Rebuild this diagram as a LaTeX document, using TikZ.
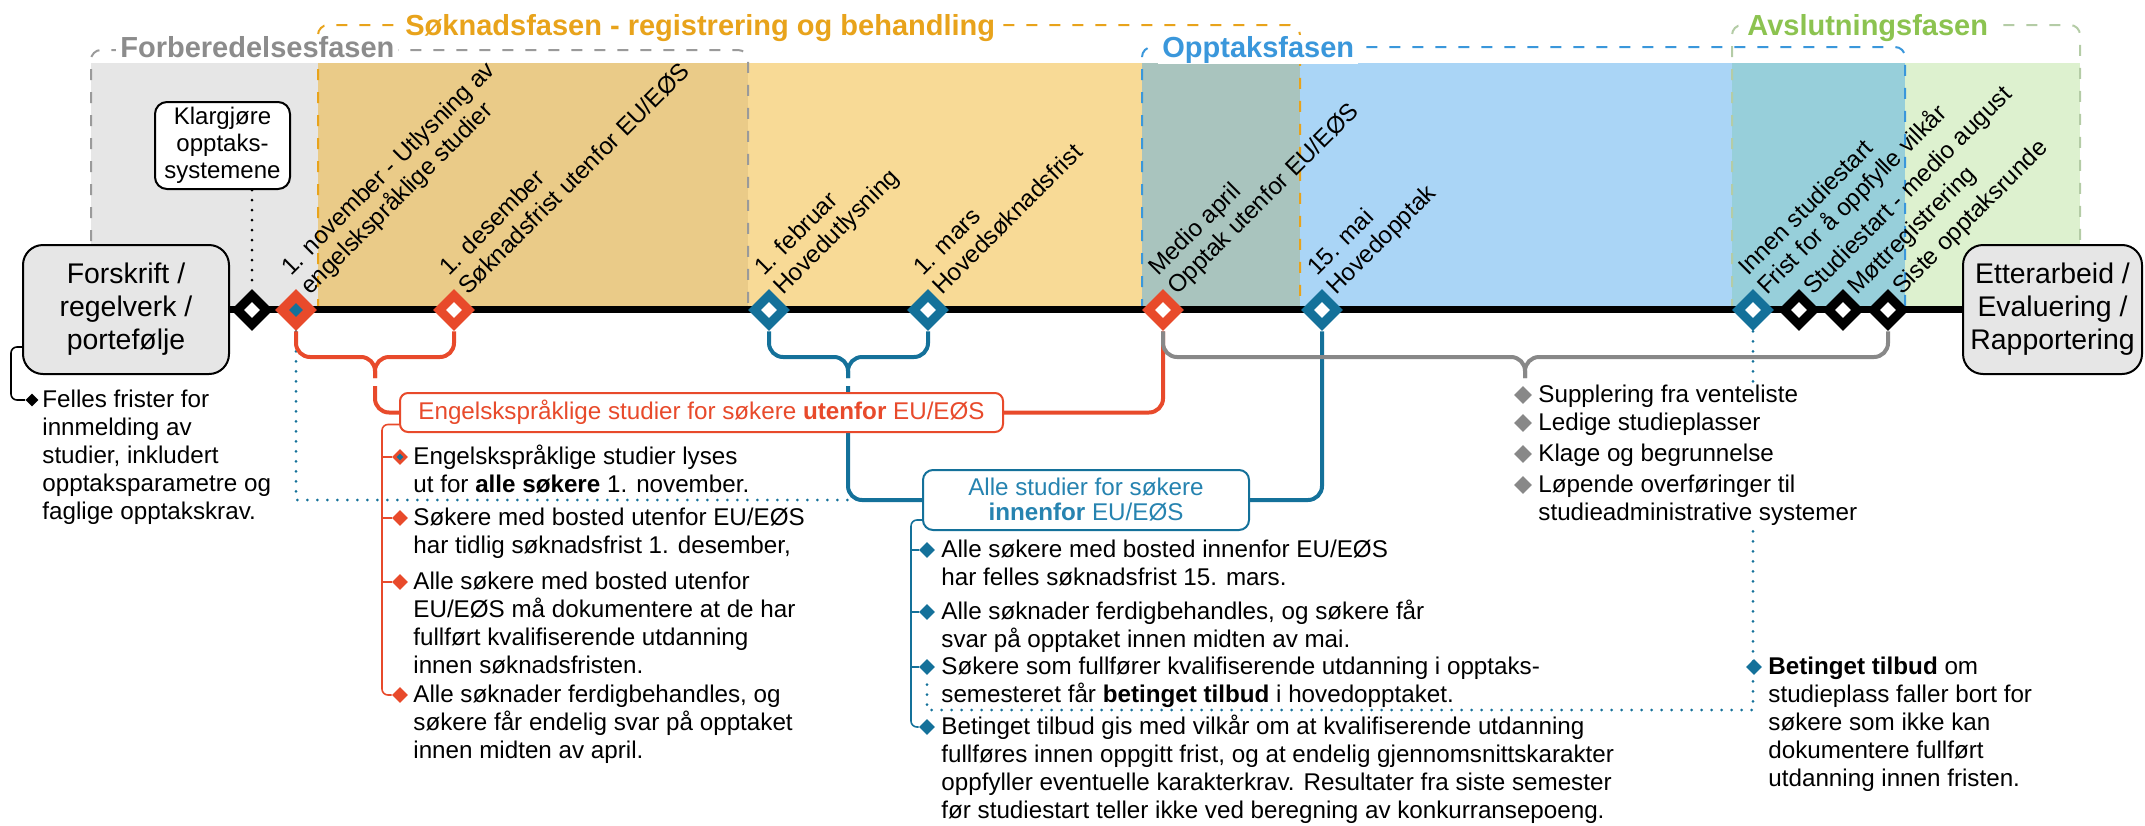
\documentclass[tikz,border=0pt]{standalone}
\usepackage{fontspec}
\setmainfont{Liberation Sans}
\usetikzlibrary{shapes.geometric}
\definecolor{cred}{HTML}{E84A2B}
\definecolor{cblue}{HTML}{14719A}
\definecolor{cbluetxt}{HTML}{2683B0}
\definecolor{cgrayb}{HTML}{888888}
\definecolor{lgray}{HTML}{8C8C8C}
\definecolor{ogray}{HTML}{9A9A9A}
\definecolor{lorange}{HTML}{E8A31B}
\definecolor{lblue}{HTML}{3A97DB}
\definecolor{lgreen}{HTML}{8CC350}
\definecolor{ogreen}{HTML}{B4CCA6}
\definecolor{fgray}{HTML}{E6E6E6}
\definecolor{ftan}{HTML}{EACB88}
\definecolor{fyel}{HTML}{F8DA96}
\definecolor{fgg}{HTML}{A9C4BE}
\definecolor{flb}{HTML}{AAD5F6}
\definecolor{fteal}{HTML}{97CFDA}
\definecolor{flg}{HTML}{DDF1CF}
\definecolor{boxgray}{HTML}{E6E6E6}
\pgfdeclarelayer{fills}
\pgfdeclarelayer{conns}
\pgfsetlayers{fills,conns,main}
\begin{document}
\begin{tikzpicture}[x=0.5pt,y=-0.5pt,
  phase/.style={line width=1pt, dash pattern=on 5.5pt off 6pt, rounded corners=5pt},
  phlab/.style={anchor=base west, fill=white, inner xsep=2pt, inner ysep=0.5pt, font=\fontsize{14.5}{17}\selectfont\bfseries},
  dmd/.style={diamond, aspect=1, inner sep=0pt, minimum size=21pt, fill=#1},
  dmdin/.style={diamond, aspect=1, inner sep=0pt, minimum size=8pt, fill=#1},
  bul/.style={diamond, aspect=1, inner sep=0pt, minimum size=8pt, fill=#1},
  txt/.style={anchor=north west, inner sep=0pt, align=left, yshift=9.8pt, font=\fontsize{12.1}{14}\selectfont},
  rlab/.style={rotate=45, anchor=south west, inner sep=0pt, align=left, font=\fontsize{12.1}{13.5}\selectfont},
  bigbox/.style={draw=black, line width=1pt, fill=boxgray, rounded corners=10pt, align=center, inner sep=0pt, minimum width=103pt, minimum height=64.5pt, font=\fontsize{14.2}{16.5}\selectfont},
  cline/.style={line width=2pt, rounded corners=7pt},
  brk/.style={line width=0.8pt, rounded corners=3pt},
  dotl/.style={line width=1.5pt, line cap=round, dash pattern=on 0pt off 5pt}
]
\useasboundingbox (0,0) rectangle (2145,825);

% ---------- phase backgrounds ----------
\begin{pgfonlayer}{fills}
\fill[fgray] (91,63) rectangle (318,310);
\fill[ftan] (318,63) rectangle (748,310);
\fill[fyel] (748,63) rectangle (1142,310);
\fill[fgg] (1142,63) rectangle (1300,310);
\fill[flb] (1300,63) rectangle (1732,310);
\fill[fteal] (1732,63) rectangle (1905,310);
\fill[flg] (1905,63) rectangle (2080,310);
\draw[phase, ogray] (91,310) |- (748,50) -- (748,310);
\draw[phase, lorange] (318,310) |- (1300,25) -- (1300,310);
\draw[phase, lblue] (1142,310) |- (1905,47) -- (1905,310);
\draw[phase, ogreen] (1732,310) |- (2080,25) -- (2080,310);
\node[phlab, text=lgray] (p1) at (116,57) {Forberedelsesfasen};
\node[phlab, text=lorange] (p2) at (401,35) {Søknadsfasen - registrering og behandling};
\node[phlab, text=lblue] (p3) at (1158,57) {Opptaksfasen};
\node[phlab, text=lgreen] (p4) at (1743,35) {Avslutningsfasen};
\end{pgfonlayer}

% ---------- boxes ----------
\node[bigbox] (fors) at (126,309.5) {Forskrift /\\regelverk /\\portefølje};
\node[bigbox, minimum width=89.5pt] (etter) at (2052.5,309.5) {Etterarbeid /\\Evaluering /\\Rapportering};
\node[draw=black, line width=1pt, fill=white, rounded corners=6pt, align=center, inner sep=0pt,
      minimum width=67.5pt, minimum height=43.5pt, font=\fontsize{12}{13.5}\selectfont] (klar) at (222.5,145.5) {Klargjøre\\opptaks-\\systemene};

% ---------- timeline diamonds ----------
\node[dmd=black] (d0) at (252,310) {}; \node[dmdin=white] at (d0) {};
\node[dmd=cred] (d1) at (296,310) {}; \node[dmdin=cblue, minimum size=7pt] at (d1) {};
\node[dmd=cred] (d2) at (454,310) {}; \node[dmdin=white] at (d2) {};
\node[dmd=cblue] (d3) at (769,310) {}; \node[dmdin=white] at (d3) {};
\node[dmd=cblue] (d4) at (928,310) {}; \node[dmdin=white] at (d4) {};
\node[dmd=cred] (d5) at (1163,310) {}; \node[dmdin=white] at (d5) {};
\node[dmd=cblue] (d6) at (1322,310) {}; \node[dmdin=white] at (d6) {};
\node[dmd=cblue] (d7) at (1753,310) {}; \node[dmdin=white] at (d7) {};
\node[dmd=black] (d8) at (1799,310) {}; \node[dmdin=white] at (d8) {};
\node[dmd=black] (d9) at (1843,310) {}; \node[dmdin=white] at (d9) {};
\node[dmd=black] (d10) at (1888,310) {}; \node[dmdin=white] at (d10) {};

% ---------- rotated date labels ----------
\node[rlab] (l1) at (316,302) {1. november - Utlysning av\\engelskspråklige studier\strut};
\node[rlab] (l2) at (474,302) {1. desember\\Søknadsfrist utenfor EU/EØS\strut};
\node[rlab] (l3) at (789,302) {1. februar\\Hovedutlysning\strut};
\node[rlab] (l4) at (948,302) {1. mars\\Hovedsøknadsfrist\strut};
\node[rlab] (l5) at (1183,302) {Medio april\\Opptak utenfor EU/EØS\strut};
\node[rlab] (l6) at (1342,302) {15. mai\\Hovedopptak\strut};
\node[rlab] (l7) at (1773,302) {Innen studiestart\\Frist for å oppfylle vilkår\strut};
\node[rlab] (l8) at (1819,302) {Studiestart - medio august\strut};
\node[rlab] (l9) at (1863,302) {Møttregistrering\strut};
\node[rlab] (l10) at (1908,302) {Siste opptaksrunde\strut};

% ---------- category boxes ----------
\node[draw=cred, line width=1pt, fill=white, rounded corners=4pt, minimum width=301.5pt, minimum height=19.5pt,
      inner sep=0pt, text=cred, font=\fontsize{12.1}{14}\selectfont] (rbox) at (701.5,412.5)
      {Engelskspråklige studier for søkere \textbf{utenfor} EU/EØS};
\node[draw=cblue, line width=1pt, fill=white, rounded corners=5pt, minimum width=163pt, minimum height=30pt,
      inner sep=0pt, align=center, text=cbluetxt, font=\fontsize{12.1}{12.5}\selectfont] (bbox) at (1086,500)
      {Alle studier for søkere\\\textbf{innenfor} EU/EØS};

% ---------- bullets ----------
\node[bul=black, minimum size=6.5pt] (fb) at (32,400) {};
\node[bul=cred] (rb1) at (400,457) {}; \node[bul=cblue, minimum size=3.5pt] at (rb1) {};
\node[bul=cred] (rb2) at (400,518) {};
\node[bul=cred] (rb3) at (400,582) {};
\node[bul=cred] (rb4) at (400,695) {};
\node[bul=cblue] (bb1) at (927,550) {};
\node[bul=cblue] (bb2) at (927,612) {};
\node[bul=cblue] (bb3) at (927,667) {};
\node[bul=cblue] (bb4) at (927,727) {};
\node[bul=cgrayb, minimum size=9pt] (gb1) at (1523,395) {};
\node[bul=cgrayb, minimum size=9pt] (gb2) at (1523,423) {};
\node[bul=cgrayb, minimum size=9pt] (gb3) at (1523,454) {};
\node[bul=cgrayb, minimum size=9pt] (gb4) at (1523,485) {};
\node[bul=cblue] (tb) at (1754,667) {};

% ---------- texts ----------
\node[txt] (ft) at (42,407) {\strut Felles frister for\\innmelding av\\studier, inkludert\\opptaksparametre og\\faglige opptakskrav.};
\node[txt] (rt1) at (413,464) {\strut Engelskspråklige studier lyses\\ut for \textbf{alle søkere} 1. november.};
\node[txt] (rt2) at (413,525) {\strut Søkere med bosted utenfor EU/EØS\\har tidlig søknadsfrist 1. desember,};
\node[txt] (rt3) at (413,589) {\strut Alle søkere med bosted utenfor\\EU/EØS må dokumentere at de har\\fullført kvalifiserende utdanning\\innen søknadsfristen.};
\node[txt] (rt4) at (413,702) {\strut Alle søknader ferdigbehandles, og\\søkere får endelig svar på opptaket\\innen midten av april.};
\node[txt] (bt1) at (941,557) {\strut Alle søkere med bosted innenfor EU/EØS\\har felles søknadsfrist 15. mars.};
\node[txt] (bt2) at (941,619) {\strut Alle søknader ferdigbehandles, og søkere får\\svar på opptaket innen midten av mai.};
\node[txt] (bt3) at (941,674) {\strut Søkere som fullfører kvalifiserende utdanning i opptaks-\\semesteret får \textbf{betinget tilbud} i hovedopptaket.};
\node[txt] (bt4) at (941,734) {\strut Betinget tilbud gis med vilkår om at kvalifiserende utdanning\\fullføres innen oppgitt frist, og at endelig gjennomsnittskarakter\\oppfyller eventuelle karakterkrav. Resultater fra siste semester\\før studiestart teller ikke ved beregning av konkurransepoeng.};
\node[txt, fill=white] (gt) at (1538,402) {\strut Supplering fra venteliste\\Ledige studieplasser\\[1.5pt]Klage og begrunnelse\\[1.5pt]Løpende overføringer til\\studieadministrative systemer};
\node[txt] (tt) at (1768,674) {\strut\textbf{Betinget tilbud} om\\studieplass faller bort for\\søkere som ikke kan\\dokumentere fullført\\utdanning innen fristen.};

% ---------- connectors ----------
\begin{pgfonlayer}{conns}
\draw[line width=3.4pt] (fors.east) -- (etter.west);
\draw[dotl, black] (d0.north |- klar.south) -- (d0.north);
\coordinate (bj) at (848,500);
\coordinate (dc) at (1753,710);
\draw[dotl, cblue] (d1.south) |- (bj);
\draw[dotl, cblue] (d7.south) -- (dc) -| (bb3.south);
% red brace and links
\coordinate (rtip) at (375,357);
\draw[cline, cred] (d1.south) |- (rtip) -- (375,378);
\draw[cline, cred] (d2.south) |- (rtip) -- (375,378);
\draw[cline, cred] (375,386) |- (rbox.west);
\draw[cline, cred] (rbox.east) -| (d5.south);
% blue brace and links
\coordinate (btip) at (848,357);
\draw[cline, cblue] (d3.south) |- (btip) -- (848,378);
\draw[cline, cblue] (d4.south) |- (btip) -- (848,378);
\draw[cline, cblue] (848,386) |- (bbox.west);
\draw[cline, cblue] (bbox.east) -| (d6.south);
% gray brace
\coordinate (gtip) at (1525,357);
\draw[cline, cgrayb] (d5.south) |- (gtip) -- (1525,378);
\draw[cline, cgrayb] (d10.south) |- (gtip) -- (1525,378);
% list brackets
\draw[brk, black] ([yshift=-18.75pt]fors.west) -- ++(-11,0) |- (fb.west);
\draw[brk, cred] ([yshift=-6pt]rbox.west) -- (382,424.5) |- (rb4.west);
\draw[brk, cred] (382,457) -- (rb1.west);
\draw[brk, cred] (382,518) -- (rb2.west);
\draw[brk, cred] (382,582) -- (rb3.west);
\draw[brk, cblue] ([yshift=-10pt]bbox.west) -- (911,520) |- (bb4.west);
\draw[brk, cblue] (911,550) -- (bb1.west);
\draw[brk, cblue] (911,612) -- (bb2.west);
\draw[brk, cblue] (911,667) -- (bb3.west);
\end{pgfonlayer}
\end{tikzpicture}
\end{document}
